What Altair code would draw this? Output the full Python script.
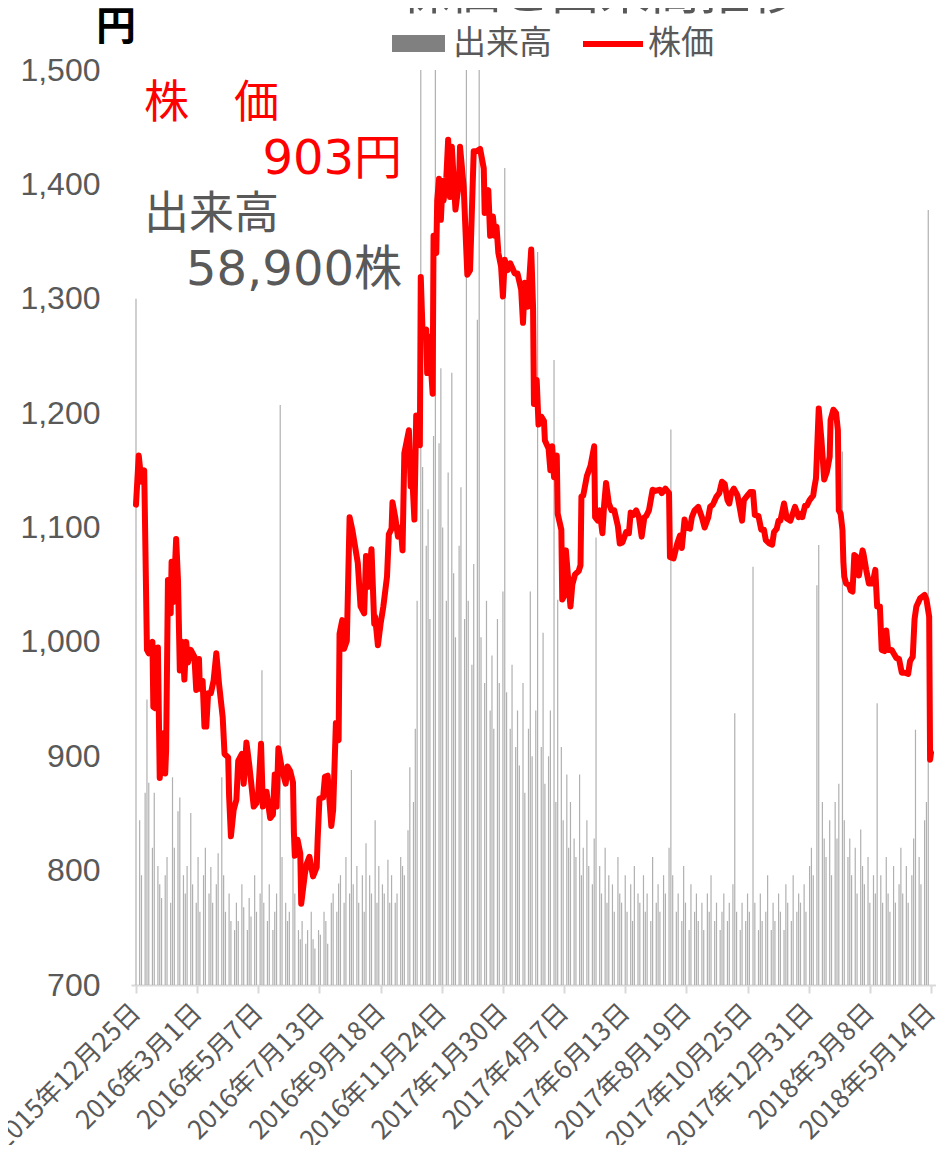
import altair as alt
import pandas as pd

START = "2015-12-25"
END = "2018-05-14"

# price: (days since 2015-12-25, close in yen)
price_day_offsets = [
    0, 3, 6, 9, 12, 14, 18, 19, 21, 24, 26, 30, 32, 33, 35, 38, 39, 41, 44, 46, 48, 51, 53, 55, 57, 60,
    64, 66, 69, 70, 73, 75, 77, 79, 82, 85, 88, 91, 95, 97, 101, 102, 104, 107, 110, 112, 116, 118,
    121, 124, 129, 132, 134, 137, 139, 143, 147, 150, 152, 154, 156, 160, 164, 166, 169, 172, 173,
    174, 177, 180, 181, 185, 187, 190, 194, 198, 199, 201, 205, 207, 210, 214, 216, 219, 222, 223,
    226, 228, 231, 234, 237, 243, 246, 250, 252, 254, 258, 261, 262, 265, 268, 271, 275, 277, 280,
    281, 284, 287, 290, 292, 294, 299, 301, 303, 305, 307, 311, 312, 314, 318, 319, 321, 325, 326,
    329, 330, 332, 334, 336, 337, 340, 342, 344, 346, 350, 354, 355, 359, 363, 366, 370, 373, 377,
    381, 382, 386, 388, 391, 393, 395, 397, 400, 402, 404, 407, 410, 415, 418, 422, 424, 426, 429,
    433, 435, 436, 439, 441, 444, 447, 448, 452, 454, 456, 458, 461, 462, 466, 467, 469, 471, 474,
    476, 478, 481, 485, 487, 488, 490, 494, 498, 502, 503, 506, 508, 511, 513, 515, 518, 521, 524,
    528, 530, 533, 537, 540, 542, 545, 548, 551, 554, 557, 559, 562, 566, 569, 574, 576, 580, 584,
    585, 589, 593, 596, 598, 601, 603, 607, 609, 612, 616, 620, 623, 627, 629, 632, 636, 639, 642,
    645, 648, 650, 652, 655, 659, 662, 664, 666, 670, 673, 676, 678, 682, 685, 688, 690, 694, 697,
    699, 702, 704, 706, 710, 713, 717, 722, 726, 728, 730, 733, 735, 738, 742, 743, 745, 748, 751,
    754, 757, 760, 761, 764, 767, 769, 770, 772, 774, 775, 776, 778, 781, 783, 785, 787, 790, 792,
    796, 797, 800, 803, 807, 810, 812, 815, 817, 820, 822, 824, 828, 830, 833, 836, 839, 842, 846,
    848, 851, 853, 855, 859, 864, 866, 869, 870, 871,
]
price_values = [
    1120, 1163, 1140, 1150, 993, 990, 1000, 943, 942, 995, 881, 920, 885, 905, 1054, 1025, 1070, 1035,
    1090, 1054, 975, 1000, 967, 1000, 982, 993, 987, 958, 985, 959, 966, 926, 926, 955, 955, 966,
    990, 963, 934, 902, 899, 865, 830, 853, 862, 896, 902, 876, 912, 893, 856, 859, 868, 911, 856,
    869, 846, 849, 884, 856, 907, 888, 876, 891, 887, 877, 833, 813, 827, 815, 771, 797, 806, 812,
    795, 803, 827, 863, 864, 882, 883, 839, 853, 929, 914, 1007, 1019, 994, 1001, 1109, 1098, 1069,
    1031, 1025, 1075, 1048, 1081, 1016, 1022, 997, 1016, 1031, 1057, 1094, 1099, 1122, 1109, 1092,
    1100, 1080, 1165, 1185, 1136, 1139, 1107, 1198, 1172, 1319, 1270, 1273, 1235, 1267, 1217, 1355,
    1340, 1386, 1405, 1369, 1403, 1386, 1406, 1439, 1389, 1433, 1378, 1403, 1433, 1398, 1321, 1325,
    1429, 1429, 1431, 1414, 1375, 1395, 1355, 1372, 1355, 1363, 1340, 1328, 1302, 1334, 1325, 1331,
    1322, 1322, 1308, 1279, 1314, 1293, 1343, 1293, 1208, 1229, 1190, 1197, 1193, 1176, 1169, 1150,
    1171, 1144, 1163, 1112, 1098, 1037, 1040, 1080, 1050, 1031, 1050, 1059, 1062, 1067, 1127, 1128,
    1145, 1154, 1171, 1109, 1106, 1115, 1095, 1121, 1139, 1121, 1115, 1115, 1101, 1086, 1087, 1096,
    1095, 1113, 1111, 1115, 1109, 1092, 1109, 1110, 1115, 1133, 1132, 1133, 1130, 1134, 1130, 1074,
    1073, 1086, 1093, 1082, 1107, 1100, 1099, 1109, 1115, 1118, 1109, 1100, 1109, 1118, 1120, 1127,
    1130, 1140, 1138, 1124, 1121, 1130, 1134, 1128, 1115, 1106, 1124, 1128, 1131, 1131, 1111, 1110,
    1098, 1098, 1089, 1086, 1085, 1096, 1099, 1106, 1106, 1121, 1108, 1106, 1118, 1109, 1112, 1109,
    1119, 1119, 1124, 1128, 1134, 1143, 1204, 1176, 1142, 1149, 1162, 1194, 1203, 1200, 1185, 1115,
    1112, 1098, 1070, 1057, 1051, 1050, 1045, 1044, 1076, 1074, 1058, 1080, 1077, 1063, 1051, 1051,
    1063, 1031, 1031, 993, 992, 1010, 993, 993, 990, 986, 985, 973, 973, 972, 983, 987, 1020, 1031,
    1038, 1041, 1037, 1022, 897, 903,
]

# volume (thousand shares), one bar every second trading day
volume_k = [
    750, 180, 120, 210, 312, 221, 150, 210, 130, 110,
    95, 120, 140, 90, 227, 150, 190, 205, 120, 100,
    130, 188, 110, 90, 140, 80, 120, 150, 100, 129,
    90, 110, 144, 227, 120, 80, 100, 70, 60, 90,
    70, 110, 85, 60, 95, 75, 120, 80, 100, 344,
    90, 70, 110, 60, 80, 100, 634, 140, 90, 70,
    80, 216, 100, 60, 50, 70, 45, 60, 80, 50,
    40, 60, 55, 80, 70, 45, 90, 100, 80, 111,
    120, 90, 140, 100, 235, 110, 130, 90, 120, 80,
    155, 120, 100, 180, 90, 130, 110, 100, 137, 90,
    120, 90, 100, 140, 130, 120, 169, 238, 200, 280,
    420, 1000, 566, 480, 520, 400, 600, 1000, 592, 674,
    500, 420, 560, 669, 450, 380, 480, 544, 400, 1000,
    420, 350, 460, 727, 1000, 380, 330, 420, 300, 360,
    280, 400, 330, 430, 893, 320, 280, 350, 260, 300,
    240, 330, 210, 280, 430, 250, 300, 801, 260, 385,
    220, 250, 300, 683, 200, 421, 260, 180, 230, 150,
    200, 160, 140, 230, 120, 150, 180, 130, 110, 160,
    489, 130, 100, 150, 90, 120, 110, 80, 140, 100,
    90, 120, 80, 110, 70, 130, 100, 90, 120, 80,
    100, 70, 140, 90, 110, 80, 120, 100, 150, 607,
    120, 80, 100, 70, 130, 90, 60, 110, 80, 100,
    70, 90, 60, 100, 80, 120, 70, 90, 60, 80,
    100, 70, 90, 110, 297, 80, 60, 90, 70, 100,
    80, 457, 90, 60, 100, 70, 80, 120, 60, 90,
    70, 100, 80, 60, 110, 90, 70, 120, 80, 100,
    90, 110, 80, 130, 150, 120, 437, 481, 200, 160,
    140, 180, 120, 200, 160, 220, 583, 180, 140, 160,
    120, 150, 100, 170, 130, 110, 140, 90, 120, 100,
    308, 120, 90, 140, 100, 80, 130, 90, 110, 150,
    100, 130, 90, 120, 160, 279, 140, 110, 180, 200, 847,
]

tick_dates = [
    (2015, 12, 25), (2016, 3, 1), (2016, 5, 7), (2016, 7, 13), (2016, 9, 18), (2016, 11, 24),
    (2017, 1, 30), (2017, 4, 7), (2017, 6, 13), (2017, 8, 19), (2017, 10, 25), (2017, 12, 31),
    (2018, 3, 8), (2018, 5, 14),
]
y_ticks = [700, 800, 900, 1000, 1100, 1200, 1300, 1400, 1500]

title_text = "株価と出来高推移"
latest_price_text = "903円"
latest_volume_text = "58,900株"

# ---------------------------------------------------------------------------
price_df = pd.DataFrame({
    "date": pd.Timestamp(START) + pd.to_timedelta(price_day_offsets, unit="D"),
    "price": price_values,
})
bdays = pd.bdate_range(START, END)[::2]
n = min(len(bdays), len(volume_k))
vol_df = pd.DataFrame({"date": bdays[:n], "vol": volume_k[:n]})

GRAY = "#595959"
FONT = "Noto Sans CJK JP"
x_scale = alt.Scale(
    domain=[alt.DateTime(year=2015, month=12, date=25), alt.DateTime(year=2018, month=5, date=14)],
    nice=False,
)
x_axis = alt.Axis(
    values=[alt.DateTime(year=y, month=m, date=d) for (y, m, d) in tick_dates],
    labelExpr="timeFormat(datum.value, '%Y年%-m月%-d日')",
    labelAngle=-45, labelAlign="right", labelBaseline="middle",
    labelFontSize=26, labelColor=GRAY, labelFont=FONT, labelPadding=15, labelLimit=400,
    domainColor="#d9d9d9", domainWidth=2, tickColor="#d9d9d9", tickWidth=2, tickSize=8,
    grid=False, title=None, labelOverlap=False, labelBound=False, labelFlush=False,
)

vol = alt.Chart(vol_df).mark_bar(width=1.2, color="#b0b0b0", clip=True).encode(
    x=alt.X("date:T", scale=x_scale, axis=x_axis),
    y=alt.Y("vol:Q", scale=alt.Scale(domain=[0, 1000]), axis=None),
)

price = alt.Chart(price_df).mark_line(color="#ff0000", strokeWidth=6, strokeJoin="round", strokeCap="round").encode(
    x=alt.X("date:T", scale=x_scale),
    y=alt.Y("price:Q", scale=alt.Scale(domain=[700, 1500], nice=False, zero=False),
            axis=alt.Axis(orient="left", values=y_ticks, format=",.0f", labelFontSize=32, labelColor=GRAY,
                          labelFont="Liberation Sans", labelPadding=31, tickSize=0, domain=False,
                          gridColor="#d9d9d9", gridWidth=2, title=None)),
)

one = pd.DataFrame({"k": [0]})


def label(text, x, y, size, color, align="left", weight="normal", font=FONT):
    return alt.Chart(one).mark_text(
        text=text, fontSize=size, color=color, align=align, baseline="middle",
        font=font, fontWeight=weight,
    ).encode(x=alt.value(x), y=alt.value(y))


texts = [
    label(title_text, 469, -76, 50, GRAY, align="center"),
    label("円", -15, -42, 40, "#000000", align="center", weight="bold"),
    label("出来高", 322, -26, 33, GRAY),
    label("株価", 517, -26, 33, GRAY),
    label("株　価", 13, 34, 45, "#ff0000"),
    label(latest_price_text, 271, 90, 48, "#ff0000", align="right", font="DejaVu Sans, Noto Sans CJK JP"),
    label("出来高", 13, 145, 45, GRAY),
    label(latest_volume_text, 271, 201, 48, GRAY, align="right", font="DejaVu Sans, Noto Sans CJK JP"),
]
legend_box = alt.Chart(one).mark_rect(color="#808080").encode(
    x=alt.value(261), x2=alt.value(314), y=alt.value(-35), y2=alt.value(-18))
legend_line = alt.Chart(one).mark_rule(color="#ff0000", strokeWidth=6).encode(
    x=alt.value(452), x2=alt.value(512), y=alt.value(-26))

chart = alt.layer(vol, price, legend_box, legend_line, *texts).resolve_scale(y="independent").properties(
    width=805, height=915,
    autosize=alt.AutoSizeParams(type="none"),
    padding={"left": 123, "top": 62, "right": 0, "bottom": 160},
).configure_view(stroke=None)

chart.save("out.html", embed_options={"renderer": "svg", "actions": False})
